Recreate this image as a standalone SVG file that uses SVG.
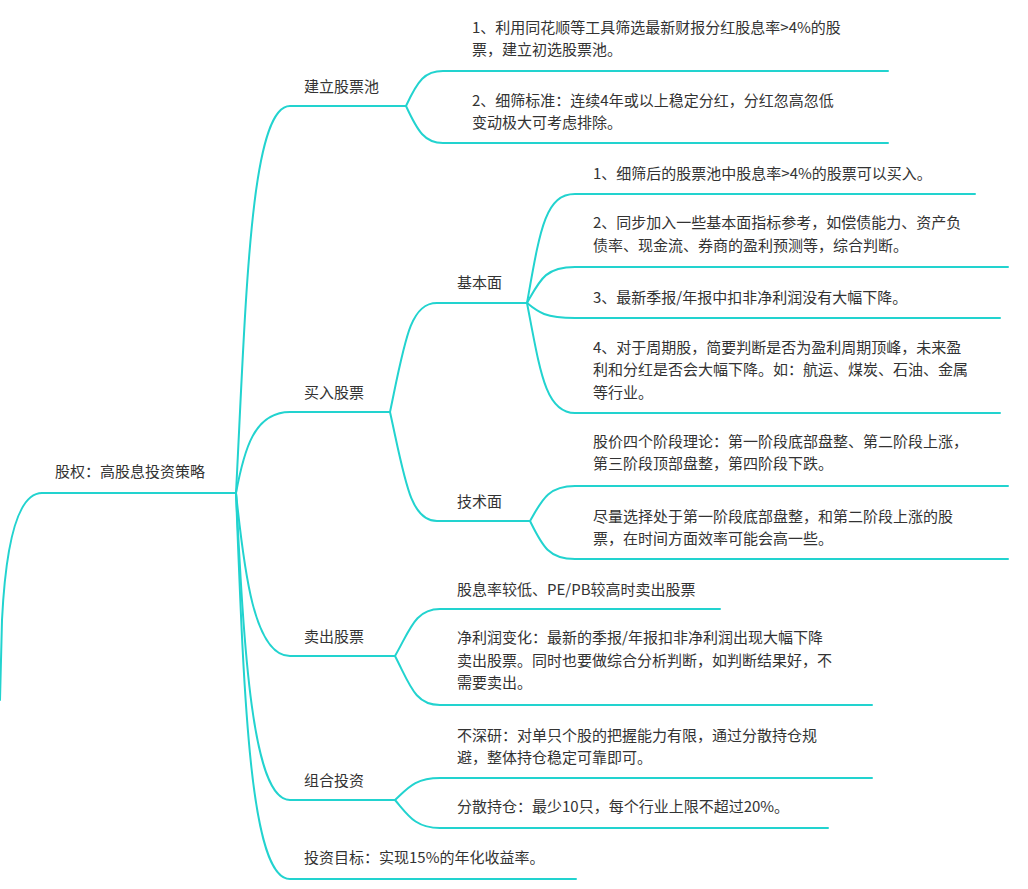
<svg xmlns="http://www.w3.org/2000/svg" width="1028" height="889" viewBox="0 0 1028 889">
<style>
text{font-family:"Noto Sans CJK SC","Liberation Sans",sans-serif;font-size:15px;fill:#333}
path{fill:none;stroke:#22d3cf;stroke-width:2;stroke-linecap:round}
</style>
<rect width="1028" height="889" fill="#fff"/>
<g id="connectors">
<path d="M42 493 C18 493 6 540 2 620 L0 700"/>
<path d="M42 493 L236 493"/>
<path d="M236 493 C246 300 250 106 290 106 L406 106"/>
<path d="M236 493 C244 450 254 412 290 412 L390 412"/>
<path d="M236 493 C244 570 254 656 290 656 L395 656"/>
<path d="M236 493 C244 650 252 800 290 800 L395 800"/>
<path d="M236 493 C244 700 250 879 290 879 L576 879"/>
<path d="M406 106 C418 80 425 71 443 71 L888 71"/>
<path d="M406 106 C418 132 425 143 443 143 L888 143"/>
<path d="M390 412 C405 340 410 303 437 303 L527 303"/>
<path d="M390 412 C405 480 410 521 437 521 L530 521"/>
<path d="M527 303 C540 230 545 194 575 194 L975 194"/>
<path d="M527 303 C540 280 545 267 575 267 L1008 267"/>
<path d="M527 303 C538 312 545 318 575 318 L1000 318"/>
<path d="M527 303 C540 370 545 413 575 413 L1000 413"/>
<path d="M530 521 C542 500 548 486 575 486 L1008 486"/>
<path d="M530 521 C542 545 548 559 575 559 L1008 559"/>
<path d="M395 656 C410 630 415 609 440 609 L720 609"/>
<path d="M395 656 C410 685 415 705 440 705 L872 705"/>
<path d="M395 800 C408 788 415 778 440 778 L872 778"/>
<path d="M395 800 C408 815 415 828 440 828 L828 828"/>
</g>
<g id="root"><text x="55" y="477">股权：高股息投资策略</text></g>
<g id="n1"><text x="304" y="92">建立股票池</text></g>
<g id="n1a"><text x="472" y="33">1、利用同花顺等工具筛选最新财报分红股息率&gt;4%的股</text><text x="472" y="55">票，建立初选股票池。</text></g>
<g id="n1b"><text x="472" y="106">2、细筛标准：连续4年或以上稳定分红，分红忽高忽低</text><text x="472" y="128">变动极大可考虑排除。</text></g>
<g id="n2"><text x="304" y="398">买入股票</text></g>
<g id="n2a"><text x="457" y="288">基本面</text></g>
<g id="n2a1"><text x="593" y="179">1、细筛后的股票池中股息率&gt;4%的股票可以买入。</text></g>
<g id="n2a2"><text x="593" y="228">2、同步加入一些基本面指标参考，如偿债能力、资产负</text><text x="593" y="251">债率、现金流、券商的盈利预测等，综合判断。</text></g>
<g id="n2a3"><text x="593" y="303">3、最新季报/年报中扣非净利润没有大幅下降。</text></g>
<g id="n2a4"><text x="593" y="353">4、对于周期股，简要判断是否为盈利周期顶峰，未来盈</text><text x="593" y="375">利和分红是否会大幅下降。如：航运、煤炭、石油、金属</text><text x="593" y="398">等行业。</text></g>
<g id="n2b"><text x="457" y="507">技术面</text></g>
<g id="n2b1"><text x="593" y="447">股价四个阶段理论：第一阶段底部盘整、第二阶段上涨，</text><text x="593" y="469">第三阶段顶部盘整，第四阶段下跌。</text></g>
<g id="n2b2"><text x="593" y="522">尽量选择处于第一阶段底部盘整，和第二阶段上涨的股</text><text x="593" y="544">票，在时间方面效率可能会高一些。</text></g>
<g id="n3"><text x="304" y="642">卖出股票</text></g>
<g id="n3a"><text x="457" y="595">股息率较低、PE/PB较高时卖出股票</text></g>
<g id="n3b"><text x="457" y="643">净利润变化：最新的季报/年报扣非净利润出现大幅下降</text><text x="457" y="666">卖出股票。同时也要做综合分析判断，如判断结果好，不</text><text x="457" y="688">需要卖出。</text></g>
<g id="n4"><text x="304" y="786">组合投资</text></g>
<g id="n4a"><text x="457" y="741">不深研：对单只个股的把握能力有限，通过分散持仓规</text><text x="457" y="763">避，整体持仓稳定可靠即可。</text></g>
<g id="n4b"><text x="457" y="812">分散持仓：最少10只，每个行业上限不超过20%。</text></g>
<g id="n5"><text x="304" y="863">投资目标：实现15%的年化收益率。</text></g>
</svg>
